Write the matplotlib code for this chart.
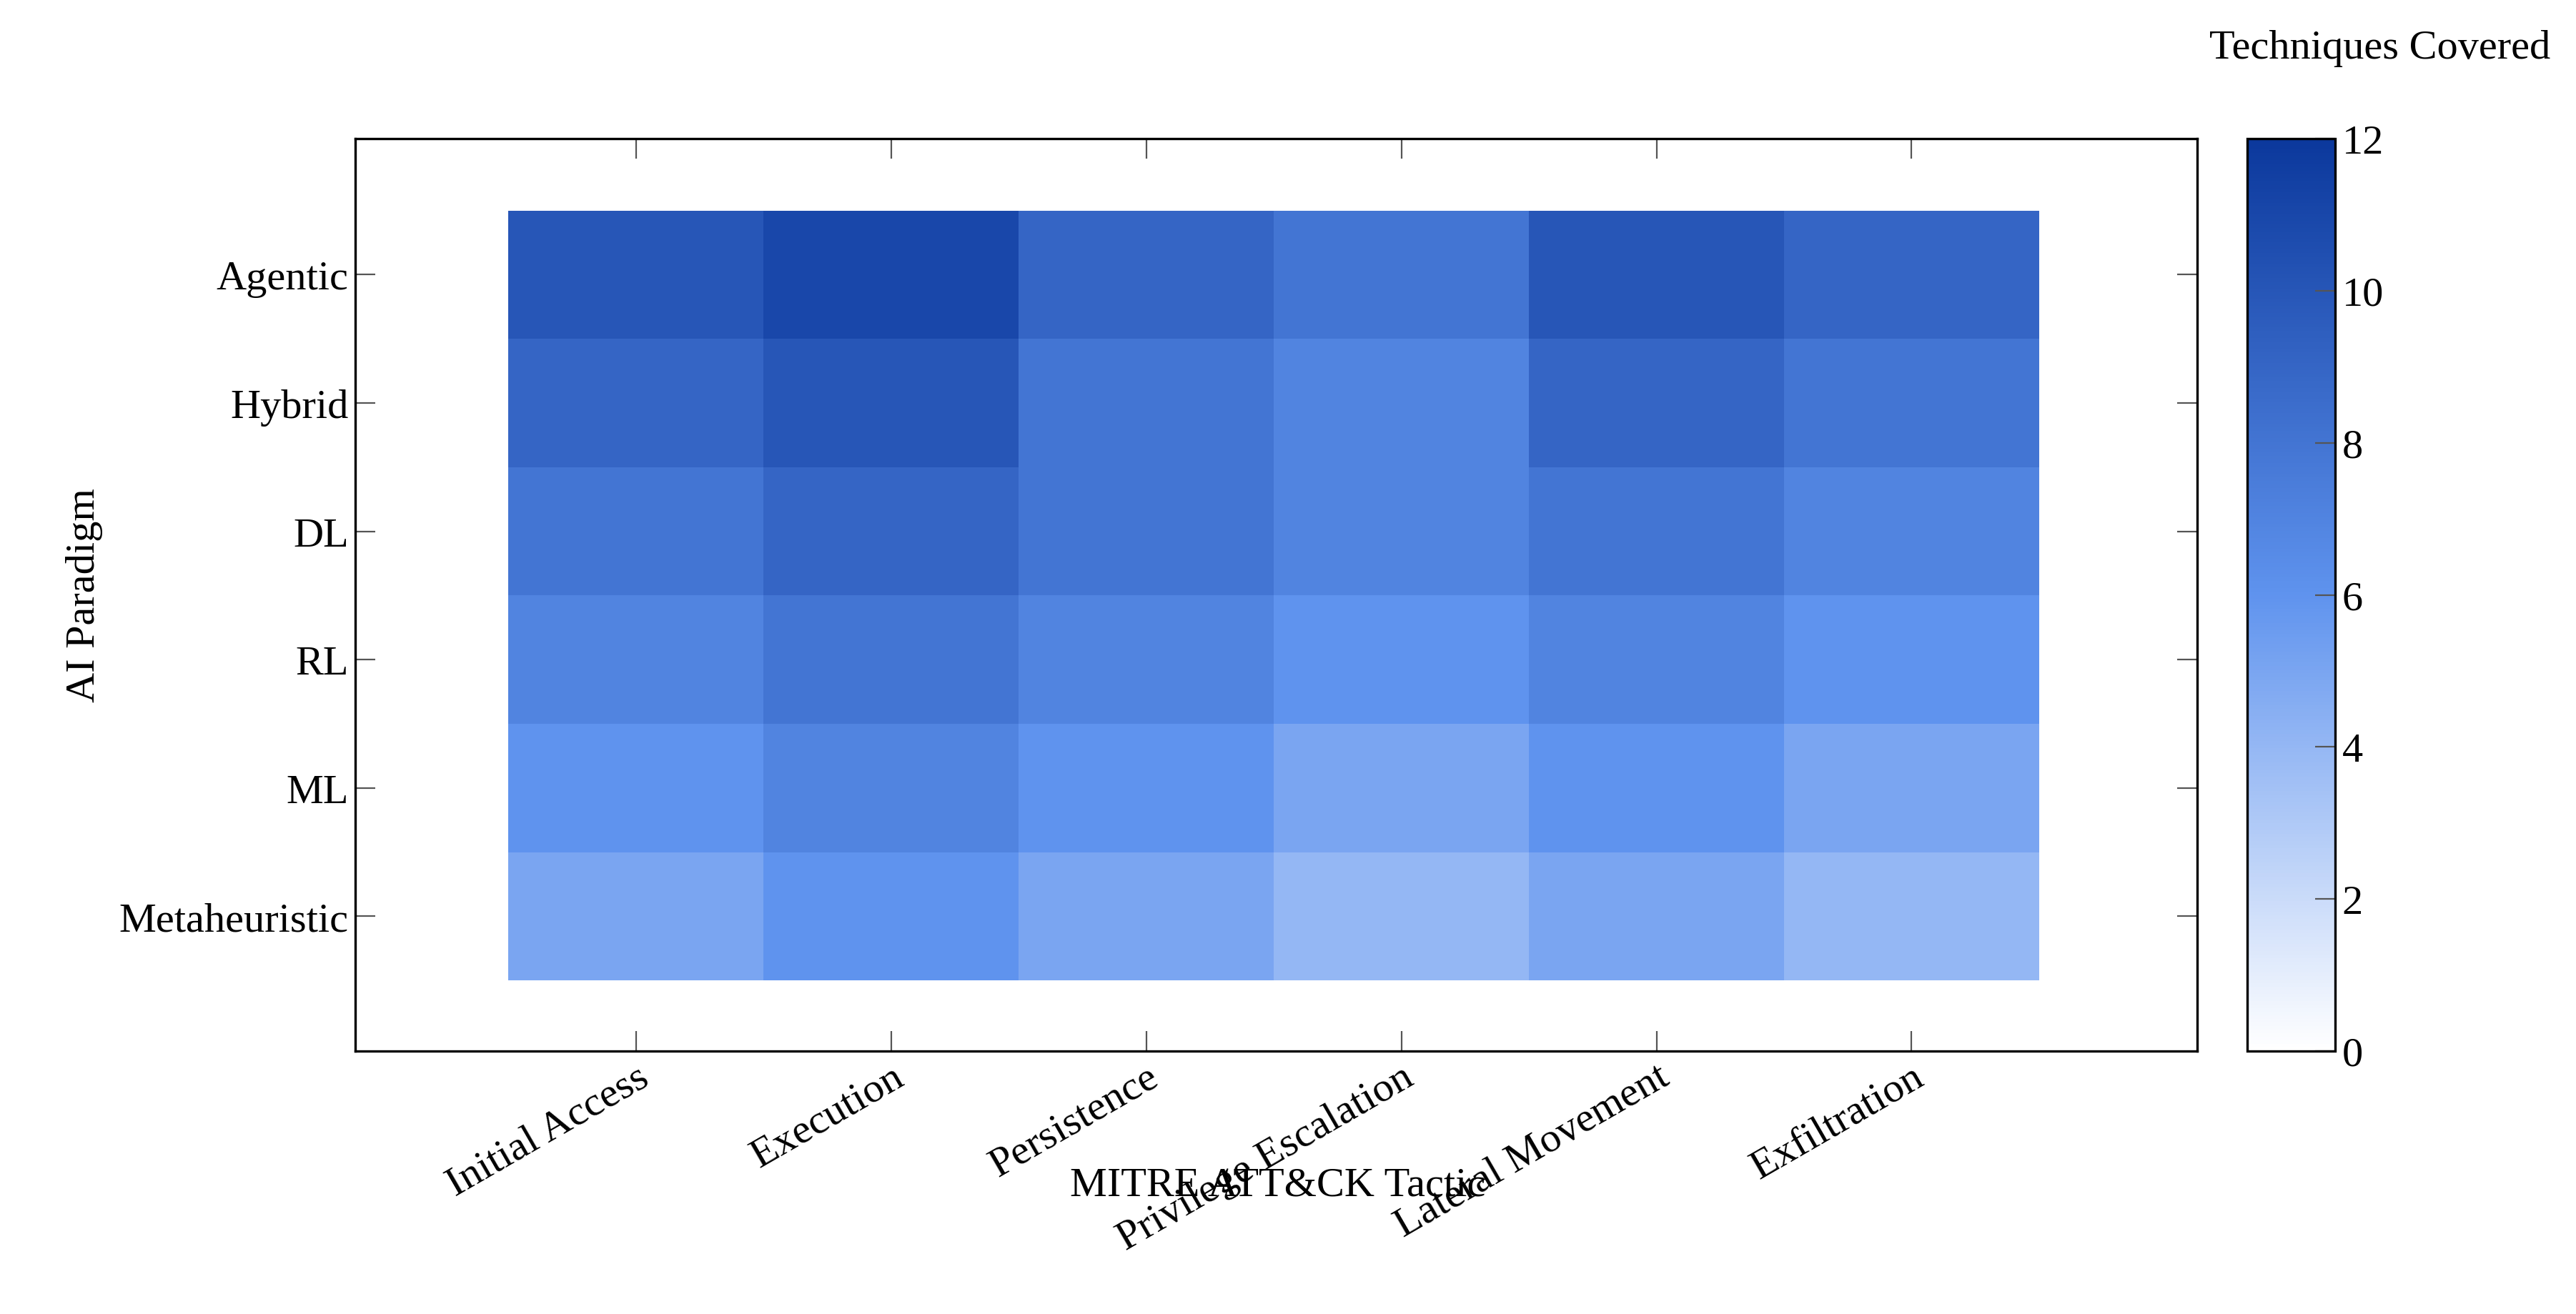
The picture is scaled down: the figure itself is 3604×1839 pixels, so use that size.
import matplotlib
matplotlib.use("Agg")
import matplotlib.pyplot as plt
import numpy as np
from matplotlib.colors import LinearSegmentedColormap

tactics = ["Initial Access", "Execution", "Persistence", "Privilege Escalation", "Lateral Movement", "Exfiltration"]
paradigms = ["Metaheuristic", "ML", "RL", "DL", "Hybrid", "Agentic"]
# rows bottom to top
values = [
    [5, 6, 5, 4, 5, 4],      # Metaheuristic
    [6, 7, 6, 5, 6, 5],      # ML
    [7, 8, 7, 6, 7, 6],      # RL
    [8, 9, 8, 7, 8, 7],      # DL
    [9, 10, 8, 7, 9, 8],     # Hybrid
    [10, 11, 9, 8, 10, 9],   # Agentic
]

plt.rcParams['font.family'] = ['Liberation Serif', 'DejaVu Serif']
cmap = LinearSegmentedColormap.from_list("b", [(0, "#ffffff"), (0.5, "#5f93ee"), (1, "#0b389c")])

fig = plt.figure(figsize=(18.02, 9.2), dpi=200)
ax = fig.add_axes([0.138, 0.2, 0.715, 0.694])
Z = np.array(values, dtype=float)
m = ax.pcolormesh(np.arange(7) - 0.5, np.arange(7) - 0.5, Z, cmap=cmap, vmin=0, vmax=12)
ax.set_xlim(-1.1, 6.12)
ax.set_ylim(-1.05, 6.06)
ax.set_xticks(range(6))
ax.set_xticklabels(tactics, rotation=30, ha="right", rotation_mode="anchor", fontsize=21)
ax.set_yticks(range(6))
ax.set_yticklabels(paradigms, fontsize=21)
ax.tick_params(direction="in", top=True, right=True, length=10, width=0.8, color="#555555")
for s in ax.spines.values():
    s.set_linewidth(1.2)
ax.set_ylabel("AI Paradigm", fontsize=21, labelpad=8)
fig.text(0.496, 0.098, "MITRE ATT&CK Tactic", ha="center", va="center", fontsize=21)

cax = fig.add_axes([0.8725, 0.2, 0.034, 0.694])
cb = fig.colorbar(m, cax=cax, ticks=[0, 2, 4, 6, 8, 10, 12])
cb.ax.tick_params(labelsize=21, direction="in", length=10, color="#555555")
cb.outline.set_linewidth(1.2)
fig.text(0.99, 0.963, "Techniques Covered", ha="right", va="center", fontsize=21)

fig.savefig("out.png", dpi=200)
